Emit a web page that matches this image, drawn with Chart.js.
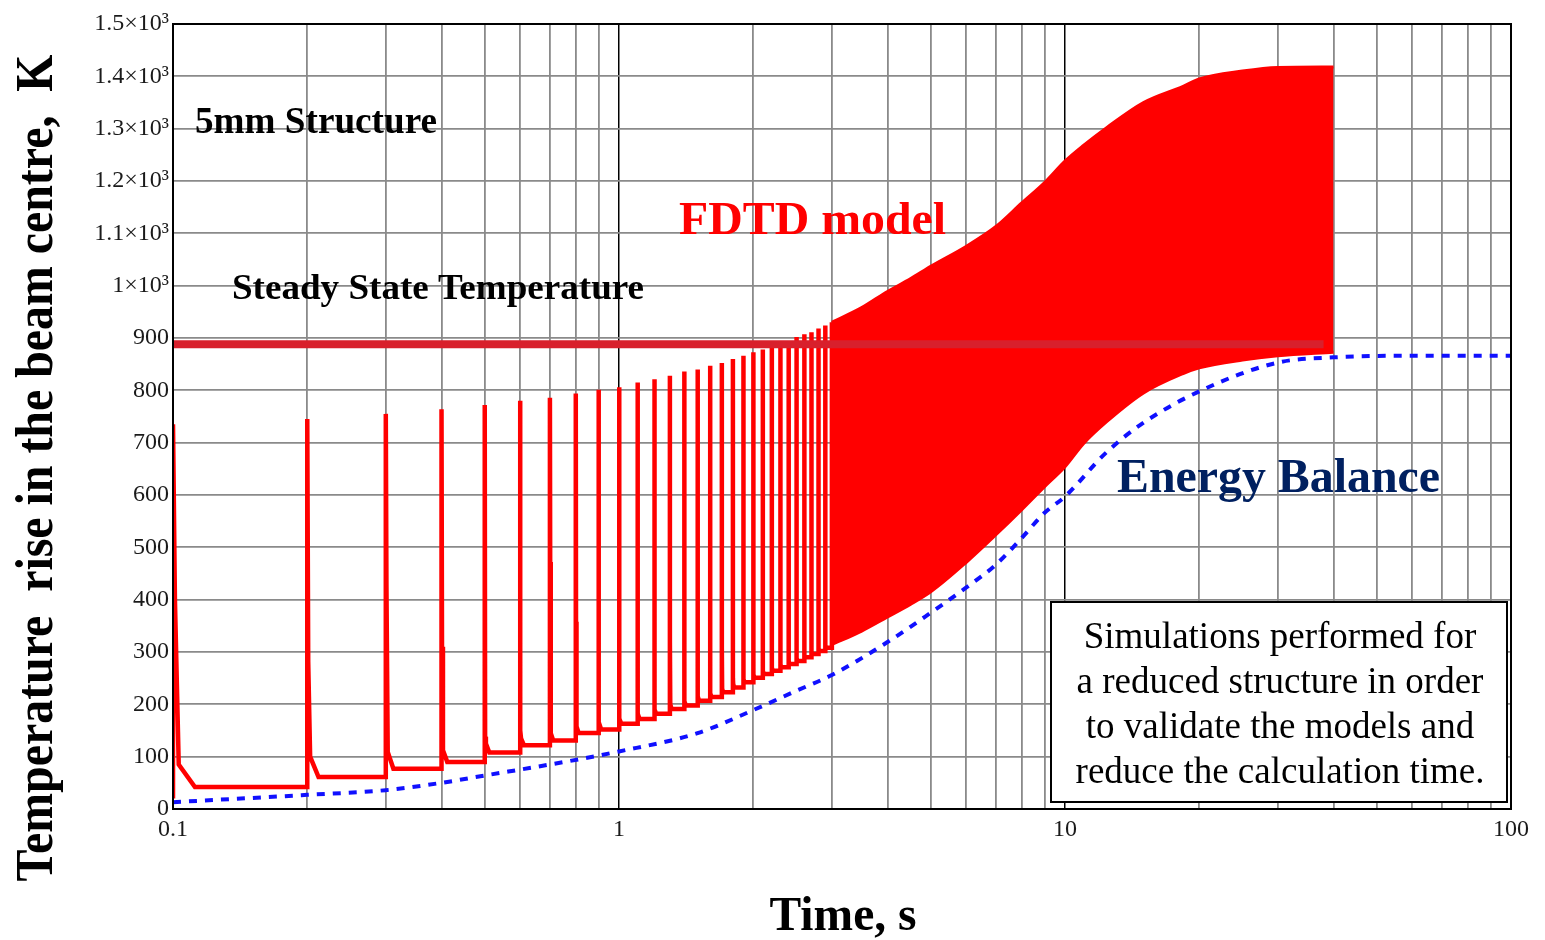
<!DOCTYPE html>
<html>
<head>
<meta charset="utf-8">
<title>Temperature rise in the beam centre</title>
<script src="https://cdn.jsdelivr.net/npm/chart.js@4.4.1/dist/chart.umd.min.js"></script>
<style>
    body { margin: 0; background: #fff; }
    #chart { display: block; }
</style>
</head>
<body>
<canvas id="chart" width="1545" height="940"></canvas>
<script>
// FDTD model vs energy balance, 5mm structure

// FDTD pulses, one every 0.1 s, drawn one by one until they merge
const pulseTimes = [0.1, 0.2, 0.3, 0.4, 0.5, 0.6, 0.7, 0.8, 0.9, 1.0,
    1.1, 1.2, 1.3, 1.4, 1.5, 1.6, 1.7, 1.8, 1.9, 2.0,
    2.1, 2.2, 2.3, 2.4, 2.5, 2.6, 2.7, 2.8, 2.9, 3.0];
const pulsePeaks = [735, 745, 755, 764, 772, 780, 786, 794, 801, 806,
    815, 821, 828, 836, 840, 847, 852, 860, 866, 873,
    878, 883, 888, 893, 902, 907, 911, 918, 924, 930];
const pulseShoulders = [400, 281, 428, 310, 138, 150, 472, 358, 166, 176,
    214, 190, 323, 215, 252, 230, 308, 250, 260, 275,
    270, 310, 292, 295, 300, 310, 323, 318, 322, 367];
const pulseKnees = [85, 100, 109, 112, 125, 135, 145, 158, 163, 173,
    182, 190, 200, 206, 215, 221, 230, 239, 248, 257,
    264, 270, 276, 282, 288, 295, 301, 307, 313, 319];
const pulseBases = [42, 61, 77, 90, 108, 122, 131, 145, 152, 163,
    172, 182, 191, 198, 207, 214, 223, 232, 242, 251,
    258, 264, 271, 277, 283, 290, 296, 302, 308, 314];
const fdtdStart = 20;

// after ~3 s the pulses merge into a solid band
const bandTimes = [3.0, 3.5, 4, 4.5, 5, 6, 7, 8, 9, 10, 11, 12.4, 15, 18.4, 20, 25, 30, 40];
const bandUpper = [930, 958, 989, 1013, 1037, 1075, 1113, 1158, 1197, 1238, 1268, 1302, 1350, 1381, 1395, 1410, 1417, 1418];
const bandLower = [314, 340, 367, 391, 415, 471, 524, 572, 616, 654, 698, 740, 795, 832, 843, 858, 866, 873];

// energy balance model
const energyTimes = [0.1, 0.2, 0.3, 0.4, 0.5, 0.7, 1, 1.5, 2, 2.5, 3, 4, 5, 6, 7, 8, 9, 10,
    12.3, 14.7, 20, 30, 40, 60, 100];
const energyValues = [13, 27, 36, 50, 64, 85, 110, 145, 189, 226, 256, 319, 375, 423, 467, 518, 566, 597,
    679, 733, 798, 853, 863, 866, 866];

// steady state temperature
const steadyTimes = [0.1, 38];
const steadyValues = [888, 888];

// axes
const yTickLabels = ['0', '100', '200', '300', '400', '500', '600', '700', '800', '900',
    '1×10³', '1.1×10³', '1.2×10³', '1.3×10³', '1.4×10³', '1.5×10³'];
const xTickValues = [0.1, 1, 10, 100];
const xTickLabels = ['0.1', '1', '10', '100'];
const xMajorGrid = [1, 10];

const xGridValues = [];
[0.1, 1, 10].forEach(d => {
    for (let m = 1; m <= 9; m++) xGridValues.push(m === 1 ? d : m * d);
});
xGridValues.push(100);

const SERIF = '"Liberation Serif", "Times New Roman", serif';

// build the pulse polyline from the read values
const pulsePoints = [];
let prevBase = fdtdStart;
pulseTimes.forEach((t, i) => {
    pulsePoints.push({ x: t, y: prevBase });
    pulsePoints.push({ x: t, y: pulsePeaks[i] });
    pulsePoints.push({ x: t + 0.001, y: pulseShoulders[i] });
    pulsePoints.push({ x: t + 0.003, y: pulseKnees[i] });
    pulsePoints.push({ x: t + 0.012, y: pulseBases[i] });
    prevBase = pulseBases[i];
});

function xy(xs, ys) {
    return xs.map((x, i) => ({ x: x, y: ys[i] }));
}

function drawFitted(ctx, text, x, y, width, align, font, color) {
    ctx.save();
    ctx.font = font;
    ctx.fillStyle = color;
    ctx.textAlign = align;
    ctx.textBaseline = 'alphabetic';
    const w = ctx.measureText(text).width;
    ctx.translate(x, y);
    ctx.scale(width / w, 1);
    ctx.fillText(text, 0, 0);
    ctx.restore();
}

const textPlugin = {
    id: 'chartText',
    afterDraw(chart) {
        const ctx = chart.ctx;
        const a = chart.chartArea;

        // frame
        ctx.save();
        ctx.strokeStyle = '#000';
        ctx.lineWidth = 2;
        ctx.strokeRect(a.left, a.top, a.right - a.left, a.bottom - a.top);
        ctx.restore();

        drawFitted(ctx, '5mm Structure', 195, 133, 242, 'left', 'bold 37px ' + SERIF, '#000');
        drawFitted(ctx, 'Steady State Temperature', 232, 299, 412, 'left', 'bold 36px ' + SERIF, '#000');
        drawFitted(ctx, 'FDTD model', 679, 234, 267, 'left', 'bold 47px ' + SERIF, '#ff0000');
        drawFitted(ctx, 'Energy Balance', 1117, 492, 323, 'left', 'bold 48px ' + SERIF, '#002060');

        // note box
        ctx.save();
        ctx.fillStyle = '#fff';
        ctx.fillRect(1051, 602, 456, 200);
        ctx.strokeStyle = '#000';
        ctx.lineWidth = 2;
        ctx.strokeRect(1051, 602, 456, 200);
        ctx.restore();
        const noteLines = ['Simulations performed for', 'a reduced structure in order',
            'to validate the models and', 'reduce the calculation time.'];
        const noteBase = [648, 693, 738, 783];
        noteLines.forEach((line, i) => {
            ctx.save();
            ctx.font = '37px ' + SERIF;
            ctx.fillStyle = '#000';
            ctx.textAlign = 'center';
            ctx.fillText(line, 1280, noteBase[i]);
            ctx.restore();
        });

        // axis titles
        ctx.save();
        ctx.translate(52, 468);
        ctx.rotate(-Math.PI / 2);
        drawFitted(ctx, 'Temperature  rise in the beam centre,  K', 0, 0, 827, 'center', 'bold 52px ' + SERIF, '#000');
        ctx.restore();
        drawFitted(ctx, 'Time, s', 843, 930, 147, 'center', 'bold 49px ' + SERIF, '#000');
    }
};

new Chart(document.getElementById('chart'), {
    type: 'line',
    data: {
        datasets: [
            {
                label: 'Steady State Temperature',
                data: xy(steadyTimes, steadyValues),
                borderColor: '#d8202c',
                borderWidth: 8,
                borderCapStyle: 'butt',
                pointRadius: 0,
                fill: false
            },
            {
                label: 'FDTD model (upper)',
                data: xy(bandTimes, bandUpper),
                borderColor: '#ff0000',
                backgroundColor: '#ff0000',
                borderWidth: 3,
                cubicInterpolationMode: 'monotone',
                pointRadius: 0,
                fill: '+1'
            },
            {
                label: 'FDTD model (lower)',
                data: xy(bandTimes, bandLower),
                borderColor: '#ff0000',
                borderWidth: 3,
                cubicInterpolationMode: 'monotone',
                pointRadius: 0,
                fill: false
            },
            {
                label: 'FDTD model',
                data: pulsePoints,
                borderColor: '#ff0000',
                borderWidth: 4.5,
                borderJoinStyle: 'miter',
                pointRadius: 0,
                fill: false
            },
            {
                label: 'Energy Balance',
                data: xy(energyTimes, energyValues),
                borderColor: '#1010ff',
                borderWidth: 4,
                borderDash: [8, 8],
                cubicInterpolationMode: 'monotone',
                pointRadius: 0,
                fill: false
            }
        ]
    },
    options: {
        responsive: false,
        animation: false,
        events: [],
        layout: {
            padding: { left: 0, right: 34, top: 24, bottom: 0 }
        },
        plugins: {
            legend: { display: false },
            tooltip: { enabled: false }
        },
        scales: {
            x: {
                type: 'logarithmic',
                min: 0.1,
                max: 100,
                afterBuildTicks: function(scale) {
                    scale.ticks = xGridValues.map(v => ({ value: v }));
                },
                afterFit: function(scale) {
                    scale.height = 940 - 809;
                },
                ticks: {
                    autoSkip: false,
                    maxRotation: 0,
                    padding: 6,
                    color: '#1a1a1a',
                    font: { family: SERIF, size: 24 },
                    callback: function(value) {
                        const k = xTickValues.indexOf(value);
                        return k >= 0 ? xTickLabels[k] : '';
                    }
                },
                grid: {
                    drawTicks: false,
                    color: ctx => xMajorGrid.includes(ctx.tick && ctx.tick.value) ? '#000' : '#8a8a8a',
                    lineWidth: ctx => xMajorGrid.includes(ctx.tick && ctx.tick.value) ? 1.5 : 1.8
                },
                border: { color: '#000', width: 2 }
            },
            y: {
                min: 0,
                max: 1500,
                afterFit: function(scale) {
                    scale.width = 173;
                },
                ticks: {
                    stepSize: 100,
                    padding: 4,
                    color: '#1a1a1a',
                    font: { family: SERIF, size: 24 },
                    callback: function(value, index) {
                        return yTickLabels[index];
                    }
                },
                grid: {
                    drawTicks: false,
                    color: '#8a8a8a',
                    lineWidth: 1.8
                },
                border: { color: '#000', width: 2 }
            }
        }
    },
    plugins: [textPlugin]
});
</script>
</body>
</html>
